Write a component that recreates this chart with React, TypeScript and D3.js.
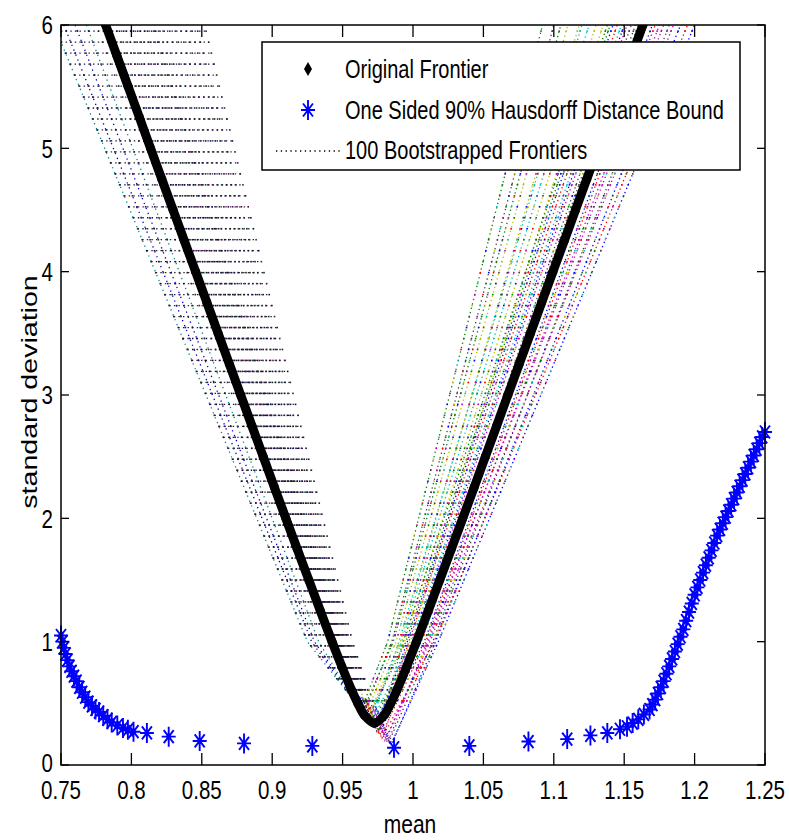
import React from 'react';
import * as d3 from 'd3';

// ---------- axis ticks ----------
const xTicks = [0.75, 0.8, 0.85, 0.9, 0.95, 1, 1.05, 1.1, 1.15, 1.2, 1.25];
const xTickLabels = ['0.75', '0.8', '0.85', '0.9', '0.95', '1', '1.05', '1.1', '1.15', '1.2', '1.25'];
const yTicks = [0, 1, 2, 3, 4, 5, 6];
const yTickLabels = ['0', '1', '2', '3', '4', '5', '6'];

// ---------- original frontier ----------
const frontierMean = [
  0.7817, 0.7897, 0.7977, 0.8057, 0.8136, 0.8216, 0.8296, 0.8376, 0.8456, 0.8536, 0.8616, 0.8696, 0.8776,
  0.8856, 0.8936, 0.9016, 0.9097, 0.9178, 0.926, 0.9342, 0.9425, 0.9494, 0.9567, 0.9608, 0.9657, 0.9725,
  0.9793, 0.9842, 0.9883, 0.9956, 1.0025, 1.0108, 1.019, 1.0272, 1.0353, 1.0434, 1.0514, 1.0594, 1.0674,
  1.0754, 1.0834, 1.0914, 1.0994, 1.1074, 1.1154, 1.1234, 1.1314, 1.1393, 1.1473, 1.1553, 1.1633,
];
const frontierStd = [
  6.0, 5.75, 5.5, 5.25, 5.0, 4.75, 4.5, 4.25, 4.0, 3.75, 3.5, 3.25, 3.0,
  2.75, 2.5, 2.25, 2.0, 1.75, 1.5, 1.25, 1.0, 0.8, 0.6, 0.5, 0.4, 0.34,
  0.4, 0.5, 0.6, 0.8, 1.0, 1.25, 1.5, 1.75, 2.0, 2.25, 2.5, 2.75, 3.0,
  3.25, 3.5, 3.75, 4.0, 4.25, 4.5, 4.75, 5.0, 5.25, 5.5, 5.75, 6.0,
];

// ---------- one sided 90% Hausdorff distance bound ----------
const boundMean = [
  0.75, 0.751, 0.752, 0.7532, 0.7545, 0.756, 0.7575, 0.7592, 0.761, 0.763, 0.765, 0.7672, 0.7695, 0.772,
  0.7745, 0.777, 0.78, 0.783, 0.786, 0.79, 0.794, 0.7975, 0.8015, 0.811, 0.8265, 0.8485, 0.88, 0.9285,
  0.9865, 1.04, 1.082, 1.1095, 1.126, 1.138, 1.147, 1.152, 1.156, 1.16, 1.164, 1.168, 1.17, 1.172, 1.174,
  1.176, 1.178, 1.18, 1.182, 1.184, 1.186, 1.188, 1.19, 1.192, 1.194, 1.196, 1.198, 1.2, 1.202, 1.204,
  1.206, 1.208, 1.21, 1.212, 1.214, 1.216, 1.218, 1.22, 1.222, 1.224, 1.226, 1.228, 1.23, 1.232, 1.234,
  1.236, 1.238, 1.24, 1.242, 1.244, 1.246, 1.248, 1.25,
];
const boundStd = [
  1.05, 1.0, 0.95, 0.9, 0.85, 0.8, 0.76, 0.72, 0.68, 0.63, 0.59, 0.55, 0.51, 0.48,
  0.45, 0.43, 0.4, 0.37, 0.345, 0.32, 0.3, 0.285, 0.27, 0.26, 0.23, 0.195, 0.175, 0.155,
  0.14, 0.155, 0.19, 0.21, 0.24, 0.26, 0.29, 0.31, 0.34, 0.37, 0.41, 0.45, 0.49, 0.53, 0.58,
  0.63, 0.68, 0.74, 0.8, 0.86, 0.92, 0.98, 1.04, 1.1, 1.17, 1.24, 1.31, 1.38, 1.44, 1.5,
  1.56, 1.62, 1.68, 1.74, 1.8, 1.86, 1.91, 1.96, 2.01, 2.06, 2.11, 2.16, 2.21, 2.26, 2.31,
  2.36, 2.41, 2.46, 2.51, 2.56, 2.61, 2.66, 2.7,
];

// ---------- bootstrapped frontiers (anchor means read from the fan) ----------
const bootLeft6 = [0.8, 0.745, 0.815, 0.788, 0.852, 0.795, 0.76, 0.808, 0.782, 0.826, 0.79, 0.834, 0.775, 0.803, 0.842, 0.768, 0.813, 0.798, 0.819, 0.785, 0.846, 0.805, 0.752, 0.822, 0.793, 0.83, 0.779, 0.81, 0.838, 0.816];
const bootLeft1 = [0.945, 0.925, 0.948, 0.942, 0.957, 0.944, 0.93, 0.947, 0.94, 0.95, 0.943, 0.952, 0.936, 0.946, 0.954, 0.933, 0.948, 0.945, 0.949, 0.941, 0.955, 0.946, 0.928, 0.949, 0.943, 0.951, 0.938, 0.947, 0.953, 0.948];
const bootVertexMean = [0.972, 0.968, 0.975, 0.97, 0.98, 0.974, 0.965, 0.977, 0.971, 0.978, 0.969, 0.982, 0.966, 0.973, 0.984, 0.963, 0.976, 0.971, 0.979, 0.967, 0.983, 0.974, 0.964, 0.977, 0.97, 0.981, 0.968, 0.975, 0.985, 0.976];
const bootVertexStd = [0.3, 0.38, 0.25, 0.33, 0.2, 0.35, 0.42, 0.28, 0.34, 0.22, 0.36, 0.18, 0.4, 0.31, 0.16, 0.44, 0.27, 0.32, 0.24, 0.37, 0.19, 0.29, 0.43, 0.23, 0.34, 0.21, 0.39, 0.26, 0.17, 0.28];
const bootRight1 = [1.0, 0.995, 1.005, 0.99, 1.012, 0.998, 0.985, 1.008, 1.002, 1.015, 0.992, 1.01, 0.988, 1.004, 1.018, 0.982, 0.997, 1.006, 1.001, 0.994, 1.014, 0.996, 0.986, 1.009, 0.999, 1.011, 0.991, 1.003, 1.016, 0.993];
const bootRight6 = [1.15, 1.14, 1.165, 1.12, 1.185, 1.135, 1.1, 1.17, 1.16, 1.195, 1.125, 1.178, 1.11, 1.155, 1.2, 1.092, 1.145, 1.162, 1.152, 1.13, 1.182, 1.142, 1.105, 1.172, 1.148, 1.175, 1.118, 1.158, 1.19, 1.138];

const matlabColors = ['#0000ff', '#008000', '#ff0000', '#00bfbf', '#bf00bf', '#bfbf00', '#404040'];
const rowColors = ['#10104a', '#202020', '#4a1850', '#10104a', '#1a3a3a', '#202020', '#3a1040'];
const legendLabels = ['Original Frontier', 'One Sided 90% Hausdorff Distance Bound', '100 Bootstrapped Frontiers'];

// std levels of the sampled frontier rows
const rowStd = d3.range(62).map((i) => 5.95 - i * 0.089);

const FONT = '"Liberation Sans", Arimo, Arial, sans-serif';
const VS = 1.27;

const x = d3.scaleLinear().domain([0.75, 1.25]).range([61, 765]);
const y = d3.scaleLinear().domain([0, 6]).range([765, 25]);

function branchMean(i: number, s: number, left: boolean): number | null {
  const top = left ? bootLeft6[i] : bootRight6[i];
  const one = left ? bootLeft1[i] : bootRight1[i];
  if (s >= 1) return one + ((top - one) * (s - 1)) / 5;
  const vs = bootVertexStd[i];
  const vm = bootVertexMean[i];
  if (s >= vs) return vm + ((one - vm) * (s - vs)) / (1 - vs);
  return null;
}

function Asterisk({ cx, cy }: { cx: number; cy: number }) {
  const d = `M${cx},${cy - 10}V${cy + 10}M${cx - 7},${cy}H${cx + 7}M${cx - 5},${cy - 6.5}L${cx + 5},${cy + 6.5}M${cx - 5},${cy + 6.5}L${cx + 5},${cy - 6.5}`;
  return (
    <g>
      <path d={d} stroke="#0000ff" strokeWidth={1.9} fill="none" />
      <circle cx={cx} cy={cy} r={2.4} fill="#0000ff" />
    </g>
  );
}

function T(props: { x: number; y: number; anchor?: string; size?: number; dy?: string; children: React.ReactNode }) {
  return (
    <text
      transform={`translate(${props.x},${props.y}) scale(1,${VS})`}
      textAnchor={props.anchor || 'start'}
      fontSize={props.size || 20}
      dy={props.dy}
      fontFamily={FONT}
      fill="#000"
    >
      {props.children}
    </text>
  );
}

export default function App() {
  const line = d3
    .line<[number, number]>()
    .x((d) => x(d[0]))
    .y((d) => y(d[1]));

  const frontierPts: [number, number][] = frontierMean.map((m, i) => [m, frontierStd[i]]);
  const frontierPath = d3
    .line<[number, number]>()
    .x((d) => x(d[0]))
    .y((d) => y(d[1]))
    .curve(d3.curveCatmullRom.alpha(0.5))(frontierPts) as string;

  const minL6 = d3.min(bootLeft6) as number;

  // right branches (and the bottom of the left branch) drawn as dotted frontier lines
  const bootPaths = bootLeft6.map((_, i) => {
    const pts: [number, number][] = [
      [bootVertexMean[i] - (bootVertexMean[i] - bootLeft1[i]) * 0.35, bootVertexStd[i] + (1 - bootVertexStd[i]) * 0.35],
      [bootVertexMean[i], bootVertexStd[i]],
      [bootRight1[i], 1],
      [bootRight6[i], 6],
    ];
    return line(pts) as string;
  });
  // outermost left branches visible as dotted diagonals
  const leftEdgePaths = bootLeft6
    .map((_, i) => i)
    .filter((i) => bootLeft6[i] < minL6 + 0.024)
    .map((i) => ({
      i,
      d: line([
        [bootLeft6[i], 6],
        [bootLeft1[i], 1],
        [bootVertexMean[i], bootVertexStd[i]],
      ]) as string,
    }));

  const rows = rowStd.map((s, r) => {
    const lefts: { m: number; i: number }[] = [];
    const rights: { m: number; i: number }[] = [];
    bootLeft6.forEach((_, i) => {
      const l = branchMean(i, s, true);
      const rr = branchMean(i, s, false);
      if (l !== null) lefts.push({ m: l, i });
      if (rr !== null) rights.push({ m: rr, i });
    });
    return { s, r, lefts, rights };
  });

  return (
    <svg width={789} height={840} style={{ position: 'absolute', left: 0, top: 0, background: '#fff' }}>
      <defs>
        <clipPath id="plotClip">
          <rect x={61} y={25} width={704} height={740} />
        </clipPath>
      </defs>
      <rect x={0} y={0} width={789} height={840} fill="#fff" />

      <g clipPath="url(#plotClip)">
        {/* bootstrapped frontiers */}
        {bootPaths.map((d, i) => (
          <path key={'b' + i} d={d} fill="none" stroke={matlabColors[i % 7]} strokeWidth={1.3} strokeDasharray="1.3,3.2" />
        ))}
        {leftEdgePaths.map((p) => (
          <path key={'e' + p.i} d={p.d} fill="none" stroke={p.i % 2 ? '#008b8b' : '#0000cc'} strokeWidth={1.3} strokeDasharray="1.3,4" />
        ))}
        {rows.map((row) => {
          const ms = row.lefts.map((p) => p.m);
          const lo = d3.min(ms);
          const hi = d3.max(ms);
          return (
            <g key={'r' + row.r}>
              {lo !== undefined && hi !== undefined && (
                <line
                  x1={x(lo)}
                  x2={x(hi)}
                  y1={y(row.s)}
                  y2={y(row.s)}
                  stroke={rowColors[row.r % 7]}
                  strokeWidth={1.3}
                  strokeDasharray="1.4,3.2"
                />
              )}
              {row.lefts.map((p) => (
                <rect key={'l' + p.i} x={x(p.m) - 0.8} y={y(row.s) - 0.8} width={1.6} height={1.6} fill={rowColors[(p.i + row.r) % 7]} />
              ))}
              {row.rights.map((p) => (
                <rect key={'q' + p.i} x={x(p.m) - 0.8} y={y(row.s) - 0.8} width={1.6} height={1.6} fill={matlabColors[(p.i + row.r) % 7]} />
              ))}
            </g>
          );
        })}

        {/* original frontier */}
        <path d={frontierPath} fill="none" stroke="#000" strokeWidth={9} strokeLinejoin="round" strokeLinecap="round" />
        {frontierPts.map((p, i) => (
          <circle key={'f' + i} cx={x(p[0])} cy={y(p[1])} r={4.5} fill="#000" />
        ))}
      </g>

      {/* hausdorff bound */}
      {boundMean.map((m, i) => (
        <Asterisk key={'a' + i} cx={x(m)} cy={y(boundStd[i])} />
      ))}

      {/* axes box */}
      <rect x={61} y={25} width={704} height={740} fill="none" stroke="#000" strokeWidth={1.5} />
      {xTicks.map((t, i) => (
        <g key={'xt' + i}>
          <line x1={x(t)} x2={x(t)} y1={765} y2={753} stroke="#000" strokeWidth={1.3} />
          <line x1={x(t)} x2={x(t)} y1={25} y2={37} stroke="#000" strokeWidth={1.3} />
          <T x={x(t)} y={799} anchor="middle" size={20.5}>
            {xTickLabels[i]}
          </T>
        </g>
      ))}
      {yTicks.map((t, i) => (
        <g key={'yt' + i}>
          <line x1={61} x2={69} y1={y(t)} y2={y(t)} stroke="#000" strokeWidth={1.3} />
          <line x1={765} x2={757} y1={y(t)} y2={y(t)} stroke="#000" strokeWidth={1.3} />
          <T x={53} y={t === 0 ? y(t) - 2 : y(t)} anchor="end" size={20.5} dy="0.36em">
            {yTickLabels[i]}
          </T>
        </g>
      ))}

      {/* axis labels */}
      <T x={410} y={833} anchor="middle" size={21}>
        mean
      </T>
      <text
        transform={`translate(37,392) rotate(-90) scale(${VS},1)`}
        textAnchor="middle"
        fontSize={22.5}
        fontFamily={FONT}
        fill="#000"
      >
        standard deviation
      </text>

      {/* legend */}
      <rect x={262} y={42} width={478} height={128} fill="#fff" stroke="#000" strokeWidth={1.5} />
      <path d="M308,62L312,69L308,76L304,69Z" fill="#000" />
      <Asterisk cx={308} cy={110} />
      <line x1={276} x2={343} y1={151} y2={151} stroke="#000" strokeWidth={1.3} strokeDasharray="1.3,3.5" />
      <T x={345} y={78}>{legendLabels[0]}</T>
      <T x={345} y={119}>{legendLabels[1]}</T>
      <T x={345} y={159}>{legendLabels[2]}</T>
    </svg>
  );
}
